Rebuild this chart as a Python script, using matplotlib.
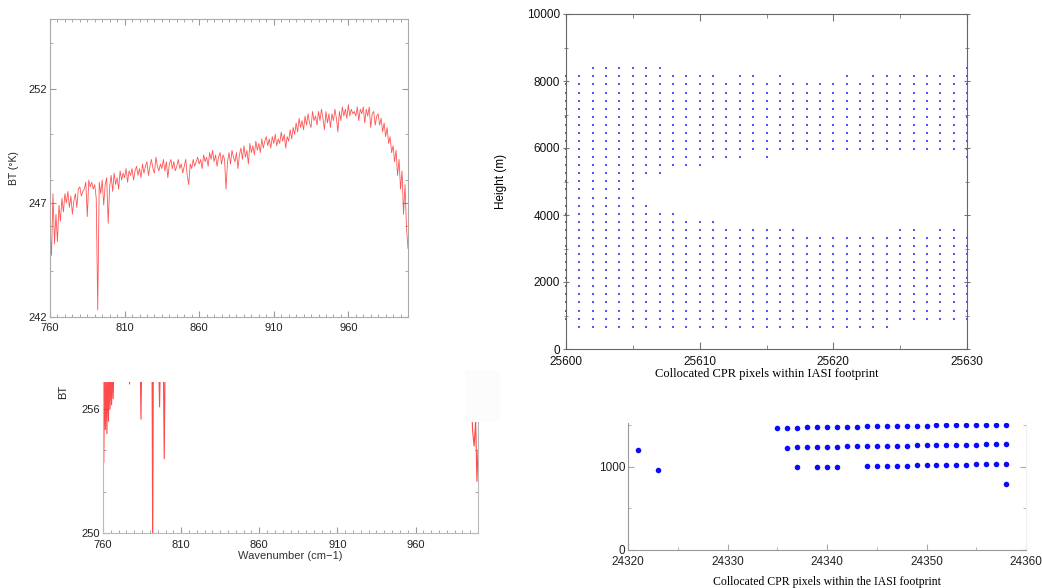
import numpy as np
import matplotlib
matplotlib.use("Agg")
import matplotlib.pyplot as plt
from matplotlib.patches import Rectangle

plt.rcParams['font.family'] = ['Liberation Sans', 'DejaVu Sans']

# ---- IASI spectrum, top left (BT in K, 1 cm-1 steps from 760 to 1000) ----
wavenumber = np.arange(760, 1001)
bt_clear = [
    246.0, 244.7, 247.4, 245.2, 246.5, 245.3, 246.9, 246.2, 247.2, 246.6,
    247.4, 247.0, 247.5, 246.8, 247.3, 246.5, 247.1, 247.4, 246.8, 247.6,
    247.7, 247.3, 247.5, 247.6, 247.9, 246.4, 248.0, 247.7, 247.9, 247.6,
    247.8, 247.2, 242.3, 247.9, 247.4, 248.0, 246.9, 247.8, 248.1, 246.1,
    247.7, 248.2, 247.5, 248.3, 247.8, 248.1, 247.6, 248.4, 248.0, 248.3,
    248.1, 248.5, 247.9, 248.4, 248.2, 248.5, 248.0, 248.4, 248.6, 248.2,
    248.5, 248.1, 248.7, 248.3, 248.6, 248.8, 248.2, 248.6, 248.9, 248.5,
    248.3, 249.0, 248.6, 248.4, 248.7, 248.5, 248.9, 248.4, 248.8, 248.1,
    248.7, 248.9, 248.5, 248.8, 248.4, 248.6, 248.9, 248.5, 248.7, 248.3,
    248.6, 248.9, 248.2, 247.8, 248.7, 248.5, 248.9, 248.6, 248.8, 249.0,
    248.7, 248.9, 248.5, 249.1, 248.8, 249.0, 248.6, 249.2, 248.9, 249.3,
    248.8, 249.1, 248.6, 249.0, 249.2, 248.7, 249.1, 248.9, 247.6, 248.8,
    249.2, 248.7, 249.3, 249.0, 248.8, 249.2, 248.5, 249.1, 249.4, 248.9,
    249.5, 249.0, 249.3, 248.7, 249.6, 249.2, 249.5, 249.1, 249.7, 249.3,
    249.6, 249.2, 249.8, 249.4, 249.7, 249.9, 249.5, 249.8, 249.4, 249.9,
    249.6, 250.0, 249.5, 249.8, 249.6, 250.1, 249.7, 250.0, 249.4, 249.9,
    249.7, 250.2, 249.8, 250.3, 250.0, 250.5, 250.1, 250.7, 250.3, 250.6,
    250.2, 250.8, 250.4, 250.9, 250.5, 250.3, 251.0, 250.6, 250.8, 250.4,
    251.0, 250.6, 251.1, 250.7, 250.2, 251.0, 250.5, 250.9, 250.3, 250.9,
    250.6, 251.1, 250.7, 250.1, 251.0, 250.6, 251.2, 250.8, 251.1, 250.7,
    251.3, 250.8, 251.1, 250.9, 251.0, 250.8, 251.2, 250.6, 251.1, 250.9,
    251.2, 250.5, 251.1, 250.8, 251.2, 250.3, 250.9, 251.0, 250.4, 250.8,
    250.9, 250.4, 250.7, 250.1, 250.5, 249.9, 250.3, 249.6, 249.9, 249.2,
    249.5, 248.8, 249.3, 248.2, 248.9, 247.6, 248.4, 246.5, 247.8, 245.9,
    245.0,
]

# ---- second spectrum, bottom left (mostly above the plotted range) ----
wn_scene2 = [760, 760.5, 761, 761.5, 762, 762.5, 763, 763.5, 764, 764.5,
             765, 765.5, 766, 766.5, 767, 770, 774, 776.5, 777, 777.5,
             780, 783.8, 784.3, 784.8, 788, 791.4, 791.8, 792.2, 793, 795.6,
             796.2, 796.8, 798.6, 799.2, 799.8, 803, 820, 850, 880, 910,
             940, 970, 990, 995, 996.5, 997.5, 998.5, 999.3, 1000]
bt_scene2 = [256.4, 253.4, 258.0, 255.0, 257.8, 254.8, 258.1, 255.4, 257.9, 256.0,
             258.0, 256.2, 258.2, 256.5, 258.3, 258.5, 258.6, 258.4, 257.2, 258.6,
             258.7, 258.5, 255.5, 258.6, 258.7, 258.2, 249.0, 258.3, 258.8, 258.6,
             256.1, 258.7, 258.6, 253.6, 258.8, 259.0, 259.2, 259.4, 259.6, 259.8,
             260.0, 260.1, 259.6, 258.4, 255.0, 254.2, 255.4, 252.5, 254.0]

# ---- CPR columns, top right (heights in m, bins of 241 m) ----
cpr_pixel = list(range(25600, 25631))
CPR_BIN = 241
low_base = [907] + [666] * 24 + [907] * 6
low_top = [8137, 8137, 8378, 8378, 8378, 8378, 4281, 4040, 4040, 3799,
           3799, 3799, 3558, 3558, 3558, 3558, 3558, 3558, 3317, 3317,
           3317, 3317, 3317, 3317, 3317, 3558, 3558, 3317, 3558, 3558,
           3317]
up_base = [np.nan] * 6 + [5245, 5245, 5486, 5486, 5486, 5727, 5727, 5727, 5968,
                          5727] + [5968] * 14 + [5727]
up_top = [np.nan] * 6 + [8378, 8378, 8137, 8137, 8137, 8137, 7896, 8137, 8137,
                         7896, 8137, 7896, 7896, 7896, 7896, 8137, 7896, 8137,
                         8137, 8137, 8137, 8137, 8137, 8137, 8378]

# ---- CPR pixels in the IASI footprint, bottom right ----
fp_pixel = ([24321, 24323]
            + list(range(24335, 24359))
            + list(range(24336, 24359))
            + [24337, 24339, 24340, 24341] + list(range(24344, 24359))
            + [24358])
fp_height = ([1200, 965]
             + [1470, 1474, 1474, 1478, 1478, 1482, 1482, 1486, 1486, 1490,
                1490, 1494, 1494, 1494, 1498, 1498, 1502, 1502, 1502, 1506,
                1506, 1506, 1510, 1510]
             + [1234, 1236, 1240, 1240, 1244, 1244, 1248, 1248, 1252, 1252,
                1256, 1256, 1258, 1260, 1262, 1262, 1266, 1266, 1270, 1270,
                1272, 1274, 1278]
             + [996, 996, 996, 996, 1008, 1010, 1012, 1014, 1016, 1018,
                1020, 1022, 1024, 1026, 1028, 1032, 1034, 1036, 1040]
             + [795])

W, H = 1042, 588
fig = plt.figure(figsize=(W / 100, H / 100), dpi=100)


def box(l, t, r, b):
    return [l / W, 1 - b / H, (r - l) / W, (b - t) / H]


# top left
ax1 = fig.add_axes(box(50, 19, 408, 317))
ax1.plot(wavenumber, bt_clear, color='#ff2a2a', lw=0.6, alpha=0.8)
ax1.set_xlim(760, 1000)
ax1.set_ylim(242, 255.05)
ax1.set_xticks([760, 810, 860, 910, 960])
ax1.set_xticks(np.arange(760, 1001, 5), minor=True)
ax1.set_yticks([242, 247, 252])
ax1.set_yticks(np.arange(242, 256, 2), minor=True)
ax1.tick_params(which='both', direction='in', top=True, right=True,
                labelsize=8, colors='#999999', labelcolor='#222222', pad=2)
ax1.tick_params(axis='x', pad=4)
ax1.tick_params(which='major', length=4)
ax1.tick_params(which='minor', length=2)
for s in ax1.spines.values():
    s.set_color('#aaaaaa')
    s.set_linewidth(0.8)
ax1.set_ylabel('BT (°K)', fontsize=7.5, labelpad=7, color='#222222')

# top right
ax2 = fig.add_axes(box(566, 14, 967, 349))
for x, lb, lt, ub, ut in zip(cpr_pixel, low_base, low_top, up_base, up_top):
    h = np.arange(lb, lt + 1, CPR_BIN)
    if not np.isnan(ub):
        h = np.concatenate([h, np.arange(ub, ut + 1, CPR_BIN)])
    ax2.scatter(np.full(len(h), x), h, s=2.2, marker='s', color='#5555ff',
                linewidths=0, clip_on=False)
ax2.set_xlim(25600, 25630)
ax2.set_ylim(0, 10000)
ax2.set_xticks([25600, 25610, 25620, 25630])
ax2.set_xticks([25605, 25615, 25625], minor=True)
ax2.set_yticks(np.arange(0, 10001, 2000))
ax2.set_yticks(np.arange(1000, 10000, 2000), minor=True)
ax2.tick_params(which='both', direction='in', top=True, right=True,
                labelsize=8.5, colors='#777777', labelcolor='#111111', pad=2)
ax2.tick_params(axis='y', which='both', direction='inout')
ax2.tick_params(axis='x', pad=5)
ax2.tick_params(which='major', length=5)
ax2.tick_params(which='minor', length=3)
for s in ax2.spines.values():
    s.set_color('#666666')
    s.set_linewidth(0.8)
ax2.set_ylabel('Height (m)', fontsize=8.5, labelpad=14)
ax2.set_xlabel('Collocated CPR pixels within IASI footprint',
               family=['Liberation Serif', 'DejaVu Serif'], fontsize=9, labelpad=0)

# bottom left
ax3 = fig.add_axes(box(103, 382, 478, 533))
ax3.plot(wn_scene2, bt_scene2, color='#ff2a2a', lw=0.8, alpha=0.85)
ax3.set_xlim(760, 1000)
ax3.set_ylim(250, 257.3)
ax3.set_xticks([760, 810, 860, 910, 960])
ax3.set_xticks(np.arange(760, 1001, 5), minor=True)
ax3.set_yticks([250, 256])
ax3.set_yticks([252, 254], minor=True)
ax3.tick_params(which='both', direction='in', right=True,
                labelsize=8, colors='#999999', labelcolor='#222222', pad=2)
ax3.tick_params(axis='x', pad=5)
ax3.tick_params(which='major', length=4)
ax3.tick_params(which='minor', length=2)
ax3.spines['top'].set_visible(False)
for s in ['left', 'bottom', 'right']:
    ax3.spines[s].set_color('#bbbbbb')
ax3.set_xlabel('Wavenumber (cm\u22121)', fontsize=8, color='#333333', labelpad=1)
fig.text(63 / W, 1 - 392 / H, 'BT', rotation=90, fontsize=8, color='#222222',
         ha='center', va='center')
fig.patches.append(Rectangle((465 / W, 1 - 422 / H), 35 / W, 52 / H,
                             transform=fig.transFigure, facecolor='#fcfcfc',
                             edgecolor='none', zorder=10))

# bottom right
ax4 = fig.add_axes(box(628, 423, 1026, 550))
ax4.plot(fp_pixel, fp_height, 'o', color='#0a0aff', ms=4, mec='none')
ax4.set_xlim(24320, 24360)
ax4.set_ylim(0, 1530)
ax4.set_xticks([24320, 24330, 24340, 24350, 24360])
ax4.set_xticks([24325, 24335, 24345, 24355], minor=True)
ax4.set_yticks([0, 1000])
ax4.set_yticks([500, 1500], minor=True)
ax4.tick_params(which='both', direction='in', right=True,
                labelsize=8.5, colors='#aaaaaa', labelcolor='#222222', pad=2)
ax4.tick_params(axis='x', pad=4)
ax4.tick_params(which='major', length=4)
ax4.tick_params(which='minor', length=2)
ax4.spines['top'].set_visible(False)
ax4.spines['right'].set_color('#eeeeee')
for s in ['left', 'bottom']:
    ax4.spines[s].set_color('#999999')
ax4.set_xlabel('Collocated CPR pixels within the IASI footprint',
               family=['Liberation Serif', 'DejaVu Serif'], fontsize=8.5, labelpad=6)

fig.savefig('out.png', dpi=100)
